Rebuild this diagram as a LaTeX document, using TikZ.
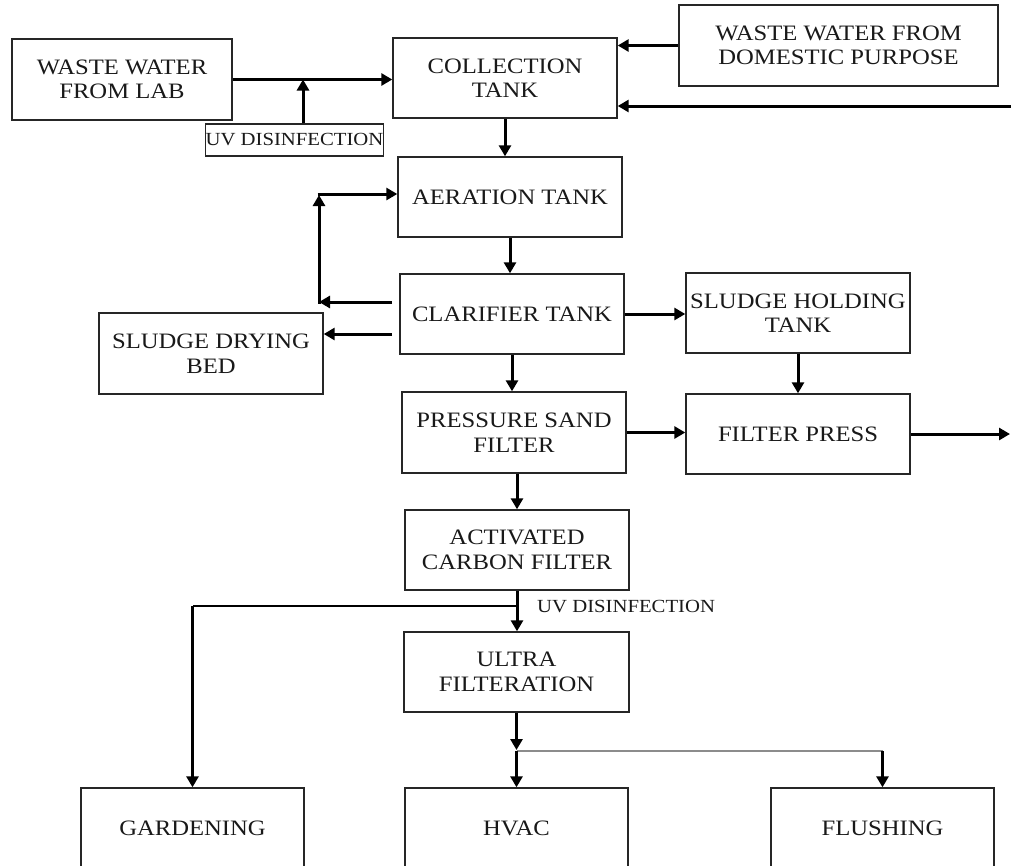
\documentclass[tikz,border=0pt]{standalone}
\usepackage{fontspec}
\setmainfont[FakeStretch=1.12]{Liberation Serif}
\usetikzlibrary{arrows.meta,calc}
\tikzset{
  box/.style={draw=black!85, line width=1.4pt, minimum width=224pt, minimum height=80pt,
    inner sep=0pt, align=center, text=black!90, font=\fontsize{22}{24.5}\selectfont},
  arr/.style={draw=black, line width=3pt, -{Triangle[length=11pt,width=12pt]}},
  thinline/.style={draw=black, line width=1.3pt},
  greyline/.style={draw=black!45, line width=1.8pt},
  lbl/.style={inner sep=0pt, text=black!90, font=\fontsize{18.5}{20}\selectfont},
}
\begin{document}
\begin{tikzpicture}[x=1pt,y=-1pt]
\useasboundingbox (0,0) rectangle (1011,865);
\clip (0,0) rectangle (1011,865);
\fill[white] (0,0) rectangle (1011,865);

% nodes
\node[box, minimum width=220pt, minimum height=81pt] (lab) at (122,79.5) {WASTE WATER\\FROM LAB};
\node[box, minimum width=175pt, minimum height=32pt, font=\fontsize{18.5}{20}\selectfont] (uvbox) at (294.5,140) {UV DISINFECTION};
\node[box] (coll) at (505,78) {COLLECTION\\TANK};
\node[box, minimum width=319pt, minimum height=81pt] (dom) at (838.5,45.5) {WASTE WATER FROM\\DOMESTIC PURPOSE};
\node[box] (aer) at (510,197) {AERATION TANK};
\node[box] (clar) at (512,314) {CLARIFIER TANK};
\node[box, minimum height=81pt] (sdb) at (211,353.5) {SLUDGE DRYING\\BED};
\node[box] (shold) at (798,313) {SLUDGE HOLDING\\TANK};
\node[box, minimum height=81pt] (psf) at (514,432.5) {PRESSURE SAND\\FILTER};
\node[box] (fpress) at (798,434) {FILTER PRESS};
\node[box] (acf) at (517,550) {ACTIVATED\\CARBON FILTER};
\node[box, minimum width=225pt] (ultra) at (516.5,672) {ULTRA\\FILTERATION};
\node[box, minimum width=223pt] (gard) at (192.5,828) {GARDENING};
\node[box, minimum width=223pt] (hvac) at (516.5,828) {HVAC};
\node[box, minimum width=223pt] (flush) at (882.5,828) {FLUSHING};
\node[lbl, anchor=west] (uvlbl) at (537,607) {UV DISINFECTION};

% coordinates
\coordinate (rin) at (1011,106);
\coordinate (rout) at (1010,434);
\coordinate (cl1) at (392,302);
\coordinate (cl2) at (392,334);
\coordinate (rc1) at (319,302);
\coordinate (rc2) at (319,303.5);
\coordinate (rc3) at (319,195);
\coordinate (rc4) at (317.5,194);
\coordinate (gsplit) at (517,606);
\coordinate (hjunc) at (516.5,750);
\coordinate (hsplit) at (516.5,751);

% connectors
\draw[arr] (lab.east) -- (lab.east -| coll.west);
\draw[arr] ([xshift=8.5pt]uvbox.north) -- ([xshift=8.5pt]uvbox.north |- lab.east);
\draw[arr] (dom.west) -- (dom.west -| coll.east);
\draw[arr] (rin) -- (rin -| coll.east);
\draw[arr] (coll.south) -- (coll.south |- aer.north);
\draw[arr] (aer.south) -- (aer.south |- clar.north);
\draw[arr] (cl1) -- (rc1);
\draw[arr] (rc2) -- (rc3);
\draw[arr] (rc4) -- (rc4 -| aer.west);
\draw[arr] (cl2) -- (cl2 -| sdb.east);
\draw[arr] (clar.east) -- (clar.east -| shold.west);
\draw[arr] (clar.south) -- (clar.south |- psf.north);
\draw[arr] (shold.south) -- (fpress.north);
\draw[arr] (psf.east) -- (psf.east -| fpress.west);
\draw[arr] (fpress.east) -- (rout);
\draw[arr] (acf.north |- psf.south) -- (acf.north);
\draw[arr] (acf.south) -- (acf.south |- ultra.north);
\draw[thinline] (gsplit) -- (gsplit -| gard.north);
\draw[arr] (gsplit -| gard.north) -- (gard.north);
\draw[arr] (ultra.south) -- (hjunc);
\draw[greyline] (hsplit) -- (hsplit -| flush.north);
\draw[arr] (hsplit) -- (hvac.north);
\draw[arr] (hsplit -| flush.north) -- (flush.north);
\end{tikzpicture}
\end{document}
